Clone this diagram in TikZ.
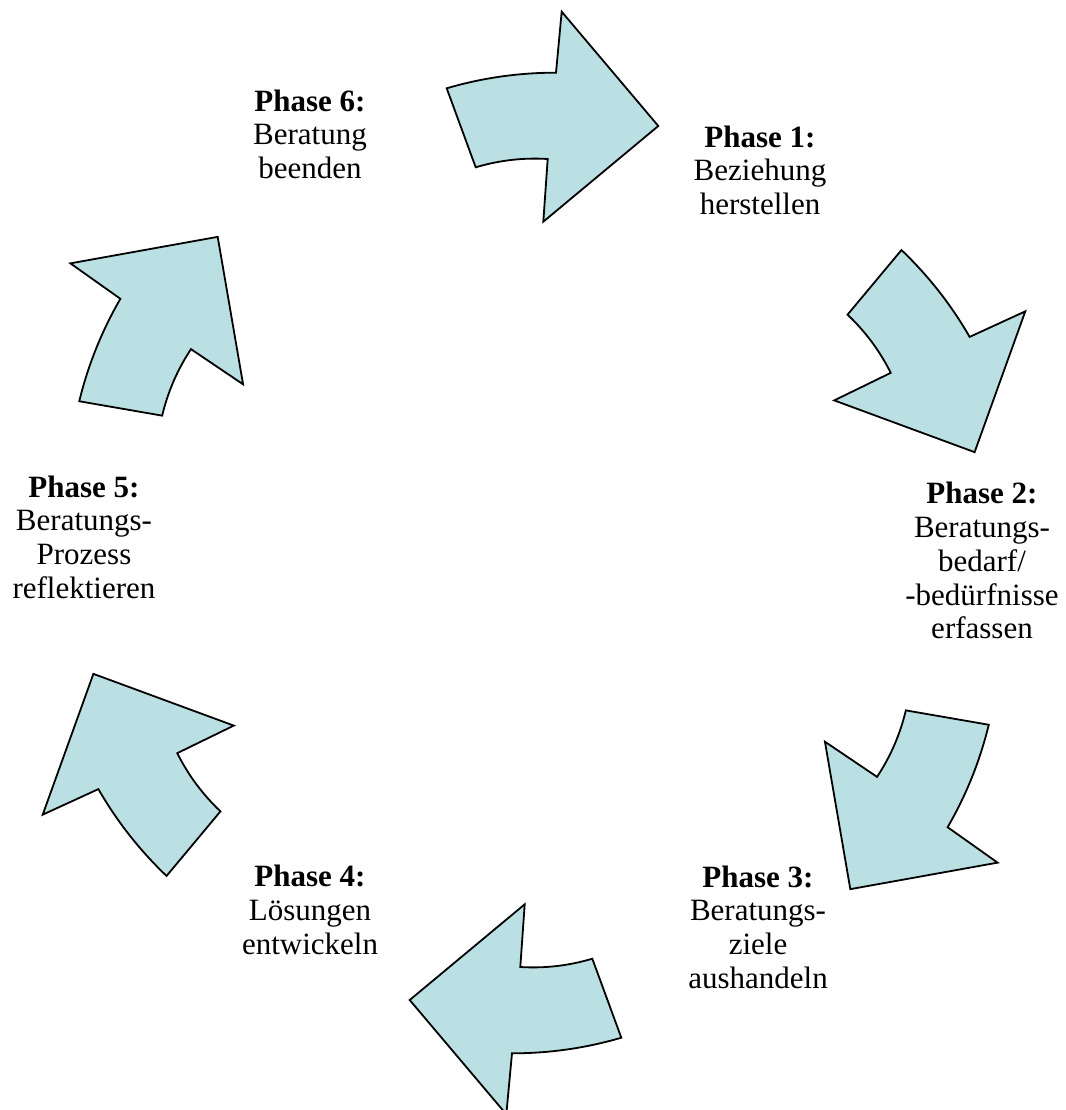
\documentclass[tikz,border=0pt]{standalone}
\usepackage{fontspec}
\setmainfont{Liberation Serif}
\definecolor{arrowfill}{RGB}{187,224,227}
\begin{document}
\begin{tikzpicture}[x=1pt,y=-1pt,
  phasearrow/.style={fill=arrowfill,draw=black,line width=1.8pt,line join=miter},
  phaselabel/.style={anchor=north,align=center,inner sep=0pt,
    font=\fontsize{31}{33.8}\selectfont}]
\useasboundingbox (0,0) rectangle (1065,1110);
\coordinate (C) at (534,563);

% six curved arrows, each one turned 60 degrees clockwise from the last
\foreach \k in {0,...,5}{
  \path[phasearrow,rotate around={-60*\k:(C)}]
    (446.7,88.3) .. controls (482.4,77.85) and (518.8,72.65) .. (556,72.7)
    -- (561.7,11.7) -- (658.3,126) -- (543.3,221.7) -- (547.7,159)
    .. controls (523.2,157.5) and (499.2,160.3) .. (475.7,167.3) -- cycle;
}

% phase labels
\node[phaselabel] (p1) at (760,125.4) {\textbf{Phase 1:}\\Beziehung\\herstellen};
\node[phaselabel] (p2) at (982,482) {\textbf{Phase 2:}\\Beratungs-\\bedarf/\\-bedürfnisse\\erfassen};
\node[phaselabel] (p3) at (758,865.4) {\textbf{Phase 3:}\\Beratungs-\\ziele\\aushandeln};
\node[phaselabel] (p4) at (310,865) {\textbf{Phase 4:}\\Lösungen\\entwickeln};
\node[phaselabel] (p5) at (84,475.4) {\textbf{Phase 5:}\\Beratungs-\\Prozess\\reflektieren};
\node[phaselabel] (p6) at (310,89.4) {\textbf{Phase 6:}\\Beratung\\beenden};
\end{tikzpicture}
\end{document}
